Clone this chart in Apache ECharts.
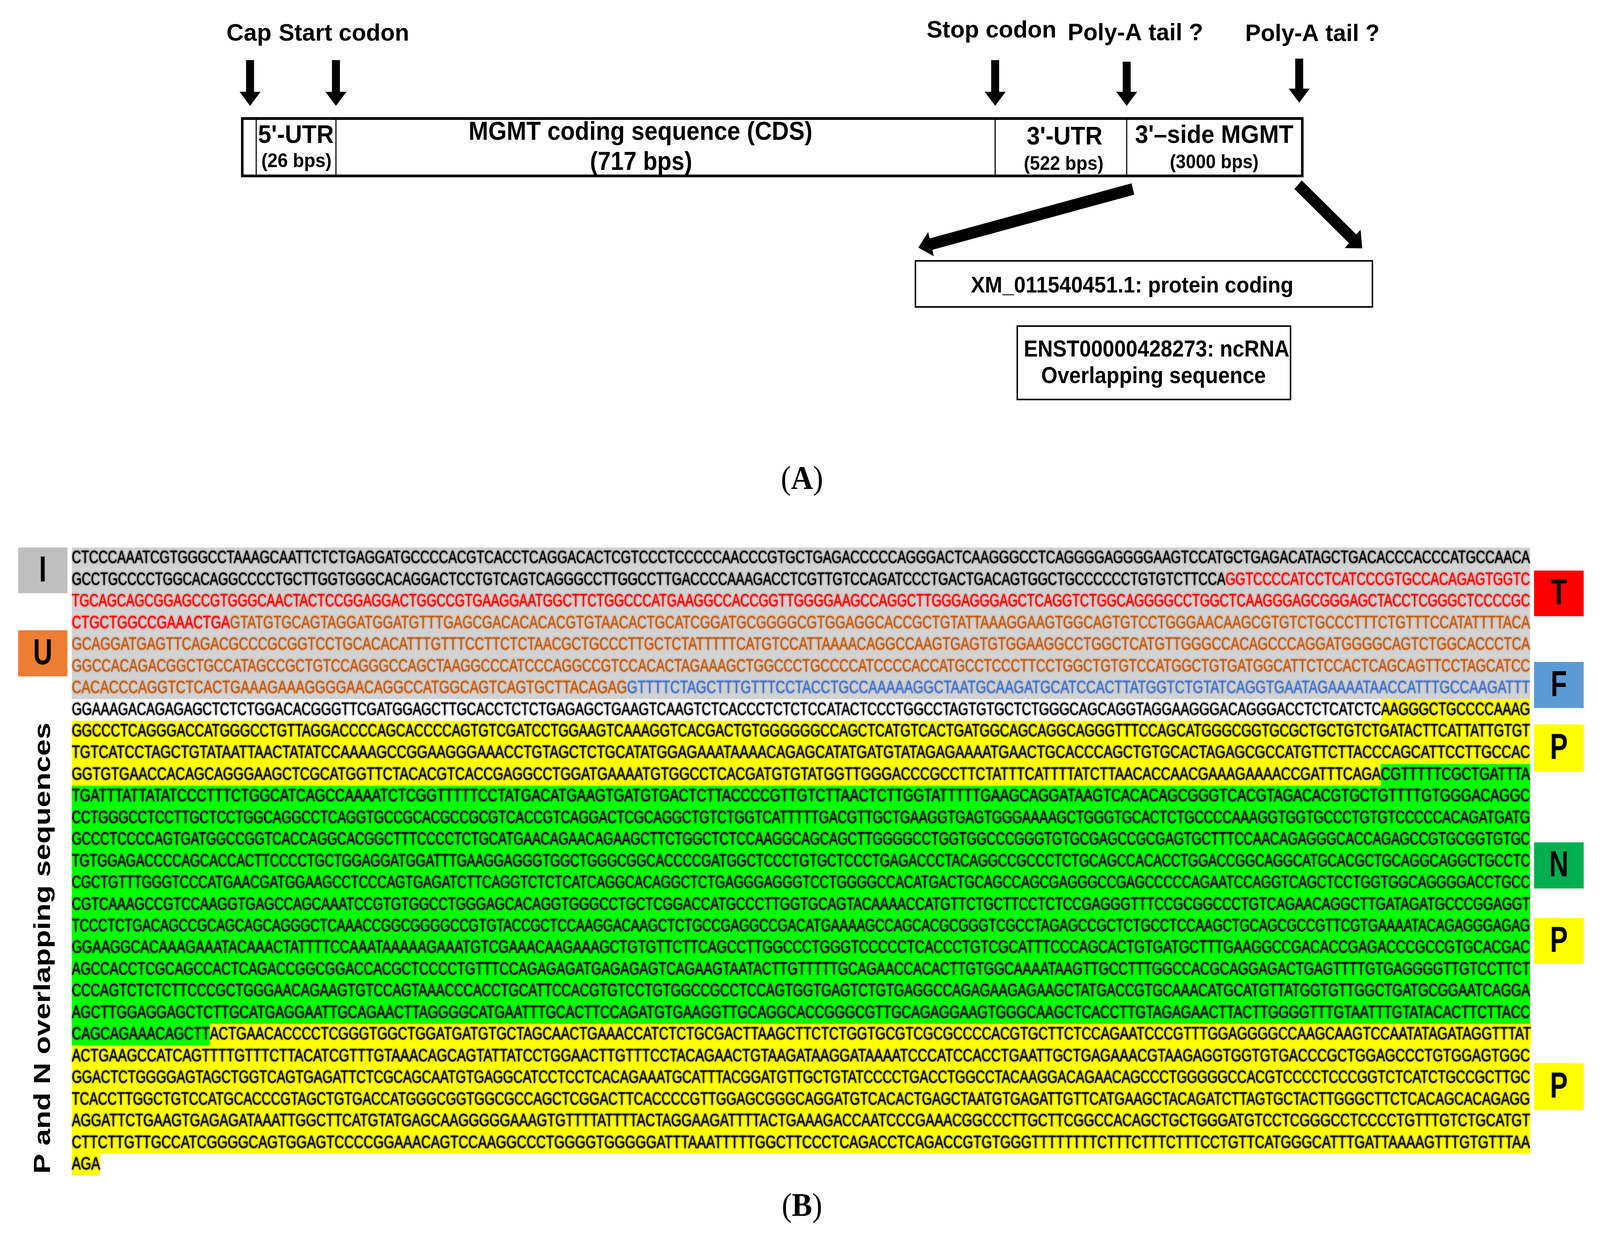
<!DOCTYPE html>
<html><head><meta charset="utf-8">
<style>html,body{margin:0;padding:0;background:#fff;overflow:hidden}#c{width:100vw;height:100vh}</style>
<script src="https://cdn.jsdelivr.net/npm/echarts@6/dist/echarts.min.js"></script>
</head><body><div id="c"></div>
<script>
// ---------- DATA ----------
const markerLabels = ['Cap', 'Start codon', 'Stop codon', 'Poly-A tail ?', 'Poly-A tail ?'];
const regionNames = ["5'-UTR", 'MGMT coding sequence (CDS)', "3'-UTR", "3'\u2013side MGMT"];
const regionSizes = ['(26 bps)', '(717 bps)', '(522 bps)', '(3000 bps)'];
const transcriptLabels = ['XM_011540451.1: protein coding', 'ENST00000428273: ncRNA', 'Overlapping sequence'];
const panelLabels = ['A', 'B'];
const sideTitle = 'P and N overlapping sequences';
const leftKeys = ['I', 'U'];
const rightKeys = ['T', 'F', 'P', 'N', 'P', 'P'];
// each row: [sequence, region code] pieces
const seqRows = [
 [['CTCCCAAATCGTGGGCCTAAAGCAATTCTCTGAGGATGCCCCACGTCACCTCAGGACACTCGTCCCTCCCCCAACCCGTGCTGAGACCCCCAGGGACTCAAGGGCCTCAGGGGAGGGGAAGTCCATGCTGAGACATAGCTGACACCCACCCATGCCAACA','I']],
 [['GCCTGCCCCTGGCACAGGCCCCTGCTTGGTGGGCACAGGACTCCTGTCAGTCAGGGCCTTGGCCTTGACCCCAAAGACCTCGTTGTCCAGATCCCTGACTGACAGTGGCTGCCCCCCTGTGTCTTCCA','I'],['GGTCCCCATCCTCATCCCGTGCCACAGAGTGGTC','T']],
 [['TGCAGCAGCGGAGCCGTGGGCAACTACTCCGGAGGACTGGCCGTGAAGGAATGGCTTCTGGCCCATGAAGGCCACCGGTTGGGGAAGCCAGGCTTGGGAGGGAGCTCAGGTCTGGCAGGGGCCTGGCTCAAGGGAGCGGGAGCTACCTCGGGCTCCCCGC','T']],
 [['CTGCTGGCCGAAACTGA','T'],['GTATGTGCAGTAGGATGGATGTTTGAGCGACACACACGTGTAACACTGCATCGGATGCGGGGCGTGGAGGCACCGCTGTATTAAAGGAAGTGGCAGTGTCCTGGGAACAAGCGTGTCTGCCCTTTCTGTTTCCATATTTTACA','U']],
 [['GCAGGATGAGTTCAGACGCCCGCGGTCCTGCACACATTTGTTTCCTTCTCTAACGCTGCCCTTGCTCTATTTTTCATGTCCATTAAAACAGGCCAAGTGAGTGTGGAAGGCCTGGCTCATGTTGGGCCACAGCCCAGGATGGGGCAGTCTGGCACCCTCA','U']],
 [['GGCCACAGACGGCTGCCATAGCCGCTGTCCAGGGCCAGCTAAGGCCCATCCCAGGCCGTCCACACTAGAAAGCTGGCCCTGCCCCATCCCCACCATGCCTCCCTTCCTGGCTGTGTCCATGGCTGTGATGGCATTCTCCACTCAGCAGTTCCTAGCATCC','U']],
 [['CACACCCAGGTCTCACTGAAAGAAAGGGGAACAGGCCATGGCAGTCAGTGCTTACAGAG','U'],['GTTTTCTAGCTTTGTTTCCTACCTGCCAAAAAGGCTAATGCAAGATGCATCCACTTATGGTCTGTATCAGGTGAATAGAAAATAACCATTTGCCAAGATTT','F']],
 [['GGAAAGACAGAGAGCTCTCTGGACACGGGTTCGATGGAGCTTGCACCTCTCTGAGAGCTGAAGTCAAGTCTCACCCTCTCTCCATACTCCCTGGCCTAGTGTGCTCTGGGCAGCAGGTAGGAAGGGACAGGGACCTCTCATCTC','X'],['AAGGGCTGCCCCAAAG','P']],
 [['GGCCCTCAGGGACCATGGGCCTGTTAGGACCCCAGCACCCCAGTGTCGATCCTGGAAGTCAAAGGTCACGACTGTGGGGGGCCAGCTCATGTCACTGATGGCAGCAGGCAGGGTTTCCAGCATGGGCGGTGCGCTGCTGTCTGATACTTCATTATTGTGT','P']],
 [['TGTCATCCTAGCTGTATAATTAACTATATCCAAAAGCCGGAAGGGAAACCTGTAGCTCTGCATATGGAGAAATAAAACAGAGCATATGATGTATAGAGAAAATGAACTGCACCCAGCTGTGCACTAGAGCGCCATGTTCTTACCCAGCATTCCTTGCCAC','P']],
 [['GGTGTGAACCACAGCAGGGAAGCTCGCATGGTTCTACACGTCACCGAGGCCTGGATGAAAATGTGGCCTCACGATGTGTATGGTTGGGACCCGCCTTCTATTTCATTTTATCTTAACACCAACGAAAGAAAACCGATTTCAGA','P'],['CGTTTTTCGCTGATTTA','N']],
 [['TGATTTATTATATCCCTTTCTGGCATCAGCCAAAATCTCGGTTTTTCCTATGACATGAAGTGATGTGACTCTTACCCCGTTGTCTTAACTCTTGGTATTTTTGAAGCAGGATAAGTCACACAGCGGGTCACGTAGACACGTGCTGTTTTGTGGGACAGGC','N']],
 [['CCTGGGCCTCCTTGCTCCTGGCAGGCCTCAGGTGCCGCACGCCGCGTCACCGTCAGGACTCGCAGGCTGTCTGGTCATTTTTGACGTTGCTGAAGGTGAGTGGGAAAAGCTGGGTGCACTCTGCCCCAAAGGTGGTGCCCTGTGTCCCCCACAGATGATG','N']],
 [['GCCCTCCCCAGTGATGGCCGGTCACCAGGCACGGCTTTCCCCTCTGCATGAACAGAACAGAAGCTTCTGGCTCTCCAAGGCAGCAGCTTGGGGCCTGGTGGCCCGGGTGTGCGAGCCGCGAGTGCTTTCCAACAGAGGGCACCAGAGCCGTGCGGTGTGC','N']],
 [['TGTGGAGACCCCAGCACCACTTCCCCTGCTGGAGGATGGATTTGAAGGAGGGTGGCTGGGCGGCACCCCGATGGCTCCCTGTGCTCCCTGAGACCCTACAGGCCGCCCTCTGCAGCCACACCTGGACCGGCAGGCATGCACGCTGCAGGCAGGCTGCCTC','N']],
 [['CGCTGTTTGGGTCCCATGAACGATGGAAGCCTCCCAGTGAGATCTTCAGGTCTCTCATCAGGCACAGGCTCTGAGGGAGGGTCCTGGGGCCACATGACTGCAGCCAGCGAGGGCCGAGCCCCCAGAATCCAGGTCAGCTCCTGGTGGCAGGGGACCTGCC','N']],
 [['CGTCAAAGCCGTCCAAGGTGAGCCAGCAAATCCGTGTGGCCTGGGAGCACAGGTGGGCCTGCTCGGACCATGCCCTTGGTGCAGTACAAAACCATGTTCTGCTTCCTCTCCGAGGGTTTCCGCGGCCCTGTCAGAACAGGCTTGATAGATGCCCGGAGGT','N']],
 [['TCCCTCTGACAGCCGCAGCAGCAGGGCTCAAACCGGCGGGGCCGTGTACCGCTCCAAGGACAAGCTCTGCCGAGGCCGACATGAAAAGCCAGCACGCGGGTCGCCTAGAGCCGCTCTGCCTCCAAGCTGCAGCGCCGTTCGTGAAAATACAGAGGGAGAG','N']],
 [['GGAAGGCACAAAGAAATACAAACTATTTTCCAAATAAAAAGAAATGTCGAAACAAGAAAGCTGTGTTCTTCAGCCTTGGCCCTGGGTCCCCCTCACCCTGTCGCATTTCCCAGCACTGTGATGCTTTGAAGGCCGACACCGAGACCCGCCGTGCACGAC','N']],
 [['AGCCACCTCGCAGCCACTCAGACCGGCGGACCACGCTCCCCTGTTTCCAGAGAGATGAGAGAGTCAGAAGTAATACTTGTTTTTGCAGAACCACACTTGTGGCAAAATAAGTTGCCTTTGGCCACGCAGGAGACTGAGTTTTGTGAGGGGTTGTCCTTCT','N']],
 [['CCCAGTCTCTCTTCCCGCTGGGAACAGAAGTGTCCAGTAAACCCACCTGCATTCCACGTGTCCTGTGGCCGCCTCCAGTGGTGAGTCTGTGAGGCCAGAGAAGAGAAGCTATGACCGTGCAAACATGCATGTTATGGTGTTGGCTGATGCGGAATCAGGA','N']],
 [['AGCTTGGAGGAGCTCTTGCATGAGGAATTGCAGAACTTAGGGGCATGAATTTGCACTTCCAGATGTGAAGGTTGCAGGCACCGGGCGTTGCAGAGGAAGTGGGCAAGCTCACCTTGTAGAGAACTTACTTGGGGTTTGTAATTTGTATACACTTCTTACC','N']],
 [['CAGCAGAAACAGCTT','N'],['ACTGAACACCCCTCGGGTGGCTGGATGATGTGCTAGCAACTGAAACCATCTCTGCGACTTAAGCTTCTCTGGTGCGTCGCGCCCCACGTGCTTCTCCAGAATCCCGTTTGGAGGGGCCAAGCAAGTCCAATATAGATAGGTTTAT','P']],
 [['ACTGAAGCCATCAGTTTTGTTTCTTACATCGTTTGTAAACAGCAGTATTATCCTGGAACTTGTTTCCTACAGAACTGTAAGATAAGGATAAAATCCCATCCACCTGAATTGCTGAGAAACGTAAGAGGTGGTGTGACCCGCTGGAGCCCTGTGGAGTGGC','P']],
 [['GGACTCTGGGGAGTAGCTGGTCAGTGAGATTCTCGCAGCAATGTGAGGCATCCTCCTCACAGAAATGCATTTACGGATGTTGCTGTATCCCCTGACCTGGCCTACAAGGACAGAACAGCCCTGGGGGCCACGTCCCCTCCCGGTCTCATCTGCCGCTTGC','P']],
 [['TCACCTTGGCTGTCCATGCACCCGTAGCTGTGACCATGGGCGGTGGCGCCAGCTCGGACTTCACCCCGTTGGAGCGGGCAGGATGTCACACTGAGCTAATGTGAGATTGTTCATGAAGCTACAGATCTTAGTGCTACTTGGGCTTCTCACAGCACAGAGG','P']],
 [['AGGATTCTGAAGTGAGAGATAAATTGGCTTCATGTATGAGCAAGGGGGAAAGTGTTTTATTTTACTAGGAAGATTTTACTGAAAGACCAATCCCGAAACGGCCCTTGCTTCGGCCACAGCTGCTGGGATGTCCTCGGGCCTCCCCTGTTTGTCTGCATGT','P']],
 [['CTTCTTGTTGCCATCGGGGCAGTGGAGTCCCCGGAAACAGTCCAAGGCCCTGGGGTGGGGGATTTAAATTTTTGGCTTCCCTCAGACCTCAGACCGTGTGGGTTTTTTTTCTTTCTTTCTTTCCTGTTCATGGGCATTTGATTAAAAGTTTGTGTTTAA','P']],
 [['AGA','P']]
];

// ---------- STYLE ----------
const REF_W = 4415;
const SX = window.innerWidth / REF_W;   // the window may be narrower than the reference
const SANS = '"Liberation Sans", Arial, sans-serif';
const SERIF = '"Liberation Serif", "Times New Roman", serif';
const regionStyle = {
  I:{fg:'#000000',bg:'#D2D2D2'}, T:{fg:'#FF0000',bg:'#D2D2D2'},
  U:{fg:'#C55A11',bg:'#D2D2D2'}, F:{fg:'#4472C4',bg:'#D2D2D2'},
  X:{fg:'#000000',bg:'#FFFFFF'}, P:{fg:'#000000',bg:'#FFFF00'}, N:{fg:'#000000',bg:'#00FF00'}
};
const keyColor = {I:'#BFBFBF',U:'#ED7D31',T:'#FF0000',F:'#5B9BD5',P:'#FFFF00',N:'#00B050'};
const SEQ_FONT = '46px ' + SANS;

const ctx = document.createElement('canvas').getContext('2d');
function tw(text, font){ ctx.font = font; return ctx.measureText(text).width; }

const pieces = [], pieceData = [];
let lastWidth = 1;
seqRows.forEach((row, r) => {
  const full = row.map(p => p[0]).join('');
  const w = tw(full, SEQ_FONT);
  const lineW = full.length < 20 ? lastWidth : w;
  lastWidth = lineW;
  let at = 0;
  row.forEach(p => {
    const pw = tw(p[0], SEQ_FONT);
    pieces.push({text:p[0], code:p[1], width:pw});
    pieceData.push([at/lineW, (at+pw)/lineW, r]);
    at += pw;
  });
});

function renderPiece(params, api){
  const p = pieces[params.dataIndex], st = regionStyle[p.code];
  const a = api.coord([api.value(0), api.value(2)]);
  const b = api.coord([api.value(1), api.value(2)]);
  const h = api.size([0,1])[1];
  return {type:'group', children:[
    {type:'rect', shape:{x:a[0], y:a[1]-h/2, width:b[0]-a[0], height:h}, style:{fill:st.bg}},
    {type:'text', x:a[0], y:a[1], scaleX:(b[0]-a[0])/p.width,
      style:{text:p.text, font:SEQ_FONT, fill:st.fg, align:'left', verticalAlign:'middle', textAlign:'left', textVerticalAlign:'middle',
        textShadowColor:st.fg, textShadowBlur:4, shadowColor:st.fg, shadowBlur:4}}
  ]};
}

// ---------- SCHEMATIC HELPERS (reference pixels; the group below applies SX) ----------
const g = [];
function fit(text, x0, x1, yc, size, bold){
  const font = (bold===false?'':'bold ') + size + 'px ' + SANS;
  g.push({type:'text', x:(x0+x1)/2, y:yc, scaleX:(x1-x0)/tw(text,font), z:5,
    style:{text, font, fill:'#000', align:'center', verticalAlign:'middle', textAlign:'center', textVerticalAlign:'middle'}});
}
function box(x0,y0,x1,y1,lw){
  g.push({type:'rect', shape:{x:x0+lw/2,y:y0+lw/2,width:x1-x0-lw,height:y1-y0-lw},
    style:{fill:'none',stroke:'#000',lineWidth:lw}, z:3});
}
function vline(x,y0,y1,lw){
  g.push({type:'line', shape:{x1:x,y1:y0,x2:x,y2:y1}, style:{stroke:'#000',lineWidth:lw}, z:3});
}
function arrow(x0,y0,x1,y1,shaft,headW,headL){
  const L=Math.hypot(x1-x0,y1-y0), ux=(x1-x0)/L, uy=(y1-y0)/L, nx=-uy, ny=ux;
  const bx=x1-ux*headL, by=y1-uy*headL, s=shaft/2, w=headW/2;
  g.push({type:'polygon', z:4, style:{fill:'#000'}, shape:{points:[
    [x0+nx*s,y0+ny*s],[bx+nx*s,by+ny*s],[bx+nx*w,by+ny*w],[x1,y1],
    [bx-nx*w,by-ny*w],[bx-nx*s,by-ny*s],[x0-nx*s,y0-ny*s]]}});
}
function key(letter,x0,y0,x1,y1){
  g.push({type:'rect', shape:{x:x0,y:y0,width:x1-x0,height:y1-y0}, style:{fill:keyColor[letter]}, z:2});
  const font='bold 92px '+SANS;
  g.push({type:'text', x:(x0+x1)/2, y:(y0+y1)/2+3, scaleX:0.8, z:5,
    style:{text:letter,font,fill:'#000',align:'center',verticalAlign:'middle',textAlign:'center',textVerticalAlign:'middle'}});
}

// marker labels and arrows
fit(markerLabels[0], 625, 749, 87, 62);
fit(markerLabels[1], 769, 1129, 87, 62);
fit(markerLabels[2], 2557, 2915, 79, 62);
fit(markerLabels[3], 2946, 3320, 86, 62);
fit(markerLabels[4], 3436, 3807, 88, 62);
arrow(690,154,690,271,22,58,36);
arrow(927,154,927,271,22,58,36);
arrow(2746,154,2746,271,22,58,36);
arrow(3109,158,3109,271,22,58,36);
arrow(3585,150,3585,263,22,58,36);

// transcript bar
box(665,300,3597,454,7);
[707,927,2746,3109].forEach(x=>vline(x,302,452,3));
fit(regionNames[0], 712, 921, 348, 64);
fit(regionSizes[0], 721, 915, 414, 50);
fit(regionNames[1], 1293, 2242, 340, 66);
fit(regionSizes[1], 1628, 1910, 417, 66);
fit(regionNames[2], 2833, 3042, 352, 64);
fit(regionSizes[2], 2825, 3045, 421, 50);
fit(regionNames[3], 3132, 3569, 348, 64);
fit(regionSizes[3], 3228, 3473, 417, 50);

// diagonal arrows and transcript boxes
arrow(3126,484,2534,634,30,64,36);
arrow(3582,473,3759,636,30,64,36);
box(2524,666,3789,788,4);
fit(transcriptLabels[0], 2679, 3569, 733, 58);
box(2805,833,3563,1025,4);
fit(transcriptLabels[1], 2825, 3558, 896, 60);
fit(transcriptLabels[2], 2873, 3493, 964, 60);

// keys
const leftBoxes = [[50,1402,186,1519],[50,1614,186,1732]];
leftKeys.forEach((k,i)=>key(k,...leftBoxes[i]));
const rightBoxes = [[4233,1461,4370,1578],[4233,1695,4370,1813],[4233,1855,4370,1976],[4233,2157,4370,2275],[4233,2351,4370,2468],[4233,2722,4370,2843]];
rightKeys.forEach((k,i)=>key(k,...rightBoxes[i]));

// rotated side title: the rotation happens inside the group's x-squeeze
(function(){
  const font='bold 64px '+SANS;
  g.push({type:'text', x:120, y:2428, rotation:Math.PI/2, scaleX:1155/tw(sideTitle,font), z:5,
    style:{text:sideTitle,font,fill:'#000',align:'center',verticalAlign:'middle',textAlign:'center',textVerticalAlign:'middle'}});
})();

// panel letters
function panel(letter,bold,xc,yc){
  const size=84, f1=size+'px '+SERIF, f2=(bold?'bold ':'')+size+'px '+SERIF;
  const wp=tw('(',f1), wl=tw(letter,f2), total=2*wp+wl, x=xc-total/2;
  const common={align:'left',verticalAlign:'middle',textAlign:'left',textVerticalAlign:'middle',fill:'#000'};
  g.push({type:'text',x:x,y:yc,z:5,style:Object.assign({text:'(',font:f1},common)});
  g.push({type:'text',x:x+wp,y:yc,z:5,style:Object.assign({text:letter,font:f2},common)});
  g.push({type:'text',x:x+wp+wl,y:yc,z:5,style:Object.assign({text:')',font:f1},common)});
}
panel(panelLabels[0],true,2213,1230);
panel(panelLabels[1],true,2213,3092);

// ---------- CHART ----------
const chart = echarts.init(document.getElementById('c'), null, {renderer:'canvas'});
chart.setOption({
  animation:false,
  backgroundColor:'#fff',
  grid:{left:198*SX,top:1402,width:4024*SX,height:1608,containLabel:false},
  xAxis:{type:'value',min:0,max:1,show:false},
  yAxis:{type:'category',inverse:true,show:false,data:seqRows.map((_,i)=>String(i+1))},
  series:[{type:'custom',coordinateSystem:'cartesian2d',renderItem:renderPiece,data:pieceData,silent:true,clip:false,
    encode:{x:[0,1],y:2}}],
  graphic:{elements:[{type:'group',x:0,y:0,scaleX:SX,children:g}]}
});
</script></body></html>
